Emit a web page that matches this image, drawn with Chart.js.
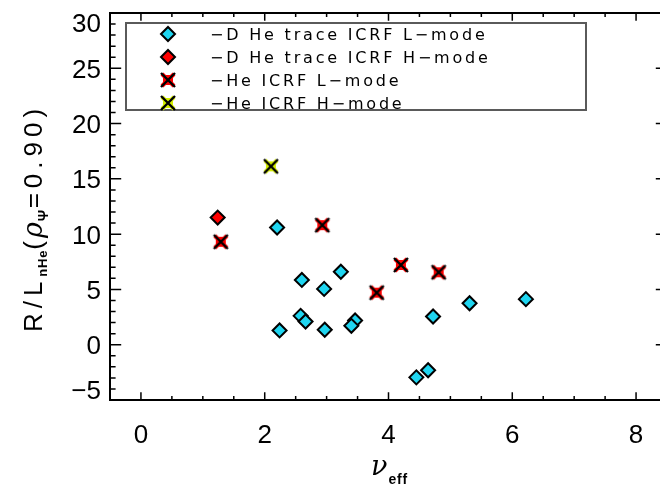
<!DOCTYPE html>
<html>
<head>
<meta charset="utf-8">
<script src="https://cdn.jsdelivr.net/npm/chart.js@4.4.1/dist/chart.umd.min.js"></script>
<style>
  html, body { margin: 0; padding: 0; background: #fff; overflow: hidden; }
  canvas { display: block; }
</style>
</head>
<body>
<canvas id="plot" width="680" height="484"></canvas>
<script>
/* ---------- data ---------- */
// D He trace, ICRF L-mode
const dTraceLX = [2.20, 2.60, 2.96, 3.23, 2.58, 2.66, 2.24, 2.97, 3.46, 3.40, 4.72, 5.31, 6.22, 4.64, 4.45];
const dTraceLY = [10.60, 5.86, 5.05, 6.60, 2.61, 2.10, 1.29, 1.35, 2.19, 1.71, 2.55, 3.75, 4.12, -2.31, -2.95];
// D He trace, ICRF H-mode
const dTraceHX = [1.24];
const dTraceHY = [11.50];
// He, ICRF L-mode
const heLX = [1.29, 2.93, 4.20, 4.81, 3.81];
const heLY = [9.31, 10.81, 7.21, 6.55, 4.71];
// He, ICRF H-mode
const heHX = [2.10];
const heHY = [16.13];

const xTicks = [0, 2, 4, 6, 8];
const xTickLabels = ["0", "2", "4", "6", "8"];
const yTicks = [-5, 0, 5, 10, 15, 20, 25, 30];
const yTickLabels = ["\u22125", "0", "5", "10", "15", "20", "25", "30"];
const legendLabels = [
  "\u2212D He trace ICRF L\u2212mode",
  "\u2212D He trace ICRF H\u2212mode",
  "\u2212He ICRF L\u2212mode",
  "\u2212He ICRF H\u2212mode"
];

const CYAN = "#1fd5f0";
const RED = "#ff0000";
const YELLOW = "#d4ee00";
const TICK_FONT = "Liberation Sans";

/* ---------- helpers ---------- */
const pts = (xs, ys) => xs.map((x, i) => ({ x, y: ys[i] }));

// black X over a coloured blob, used as a pointStyle image
function xMarker(fill){
  const c = document.createElement("canvas");
  c.width = c.height = 24;
  const g = c.getContext("2d");
  g.fillStyle = fill;
  g.fillRect(7, 7, 10, 10);
  g.strokeStyle = fill; g.lineWidth = 4;
  g.beginPath(); g.moveTo(6, 6); g.lineTo(18, 18); g.moveTo(18, 6); g.lineTo(6, 18); g.stroke();
  g.strokeStyle = "#000"; g.lineWidth = 2.4;
  g.beginPath(); g.moveTo(5, 5); g.lineTo(19, 19); g.moveTo(19, 5); g.lineTo(5, 19); g.stroke();
  return c;
}
const redX = xMarker(RED);
const yellowX = xMarker(YELLOW);

function diamond(ctx, x, y, r, fill){
  ctx.beginPath();
  ctx.moveTo(x - r, y); ctx.lineTo(x, y - r); ctx.lineTo(x + r, y); ctx.lineTo(x, y + r);
  ctx.closePath();
  ctx.fillStyle = fill; ctx.fill();
  ctx.strokeStyle = "#000"; ctx.lineWidth = 2; ctx.stroke();
}

// draw text char by char with extra spacing, returns advance
function spaced(ctx, text, x, y, sp){
  let cx = x;
  for (const ch of text){
    ctx.fillText(ch, cx, y);
    cx += ctx.measureText(ch).width + sp;
  }
  return cx - x;
}
function spacedWidth(ctx, text, sp){
  let w = 0;
  for (const ch of text) w += ctx.measureText(ch).width + sp;
  return w;
}

/* ---------- axes, titles, legend (IDL-like box frame) ---------- */
const framePlugin = {
  id: "frame",
  afterDatasetsDraw(chart){
    const { ctx, chartArea: a, scales: { x: xs, y: ys } } = chart;
    ctx.save();
    ctx.strokeStyle = "#000";
    ctx.fillStyle = "#000";

    // frame
    ctx.lineWidth = 2;
    ctx.strokeRect(a.left, a.top, a.right - a.left, a.bottom - a.top);

    // x ticks, minor every 0.5
    ctx.lineWidth = 1.5;
    ctx.beginPath();
    for (let k = -1; k <= 17; k++){
      const v = k / 2;
      const px = xs.getPixelForValue(v);
      const len = xTicks.includes(v) ? 7.8 : 3.9;
      ctx.moveTo(px, a.bottom); ctx.lineTo(px, a.bottom - len);
      ctx.moveTo(px, a.top); ctx.lineTo(px, a.top + len);
    }
    // y ticks, minor every 1
    for (let v = -5; v <= 30; v++){
      const py = ys.getPixelForValue(v);
      const len = yTicks.includes(v) ? 11.2 : 5.6;
      ctx.moveTo(a.left, py); ctx.lineTo(a.left + len, py);
      ctx.moveTo(a.right, py); ctx.lineTo(a.right - len, py);
    }
    ctx.stroke();

    // tick labels
    const fs = 26;
    ctx.font = `${fs}px "${TICK_FONT}"`;
    ctx.textBaseline = "alphabetic";
    ctx.textAlign = "center";
    xTicks.forEach((v, i) => {
      ctx.fillText(xTickLabels[i], xs.getPixelForValue(v), 434 + 0.36 * fs);
    });
    ctx.textAlign = "right";
    yTicks.forEach((v, i) => {
      let cy = ys.getPixelForValue(v);
      cy = Math.min(Math.max(cy, a.top + 10), a.bottom - 10);
      ctx.fillText(yTickLabels[i], 101, cy + 0.36 * fs);
    });

    // x title: nu_eff
    ctx.textAlign = "left";
    ctx.font = `italic 27px "DejaVu Serif"`;
    const nuW = ctx.measureText("\u03bd").width;
    ctx.font = `bold 14px "${TICK_FONT}"`;
    const effW = spacedWidth(ctx, "eff", 0.8);
    let tx = 389 - (nuW + effW) / 2;
    ctx.font = `italic 27px "DejaVu Serif"`;
    ctx.fillText("\u03bd", tx, 475);
    ctx.font = `bold 14px "${TICK_FONT}"`;
    spaced(ctx, "eff", tx + nuW + 1, 484, 0.8);

    // y title: R/L_nHe(rho_Psi=0.90), rotated
    const parts = [
      { t: "R/L", f: `26px "${TICK_FONT}"`, dy: 0, sp: 5 },
      { t: "nHe", f: `bold 13px "${TICK_FONT}"`, dy: 5, sp: 0.8 },
      { t: "(", f: `26px "${TICK_FONT}"`, dy: 0, sp: 3 },
      { t: "\u03c1", f: `italic 27px "DejaVu Serif"`, dy: 0, sp: 1 },
      { t: "\u03a8", f: `bold 14px "${TICK_FONT}"`, dy: 6, sp: 1.5 },
      { t: "=0.90)", f: `26px "${TICK_FONT}"`, dy: 0, sp: 5 }
    ];
    let total = 0;
    parts.forEach(p => { ctx.font = p.f; p.w = spacedWidth(ctx, p.t, p.sp); total += p.w; });
    ctx.save();
    ctx.translate(42, 218);
    ctx.rotate(-Math.PI / 2);
    let px = -total / 2;
    parts.forEach(p => { ctx.font = p.f; spaced(ctx, p.t, px, p.dy, p.sp); px += p.w; });
    ctx.restore();

    // legend
    ctx.strokeStyle = "#5a5a5a";
    ctx.lineWidth = 2;
    ctx.strokeRect(126, 23, 460, 87);
    const rows = [34, 57, 80, 103];
    ctx.font = `16px "DejaVu Sans"`;
    legendLabels.forEach((lab, i) => {
      const cy = rows[i];
      if (i === 0) diamond(ctx, 168, cy, 7, CYAN);
      else if (i === 1) diamond(ctx, 168, cy, 7, RED);
      else ctx.drawImage(i === 2 ? redX : yellowX, 168 - 12, cy - 12);
      ctx.fillStyle = "#000";
      spaced(ctx, lab, 210, cy + 6, 2.8);
    });
    ctx.restore();
  }
};

/* ---------- chart ---------- */
const markerBase = { showLine: false, pointBorderColor: "#000" };

new Chart(document.getElementById("plot").getContext("2d"), {
  type: "scatter",
  data: {
    datasets: [
      { ...markerBase, label: legendLabels[3], data: pts(heHX, heHY), pointStyle: yellowX, pointRadius: 12 },
      { ...markerBase, label: legendLabels[2], data: pts(heLX, heLY), pointStyle: redX, pointRadius: 12 },
      { ...markerBase, label: legendLabels[1], data: pts(dTraceHX, dTraceHY), pointStyle: "rectRot",
        pointRadius: 7, pointHoverRadius: 7, pointBackgroundColor: RED, pointBorderWidth: 2 },
      { ...markerBase, label: legendLabels[0], data: pts(dTraceLX, dTraceLY), pointStyle: "rectRot",
        pointRadius: 7, pointHoverRadius: 7, pointBackgroundColor: CYAN, pointBorderWidth: 2 }
    ]
  },
  options: {
    responsive: false,
    animation: false,
    layout: { padding: { left: 110, right: 11.4, top: 12, bottom: 84 } },
    scales: {
      x: { type: "linear", min: -0.5, max: 8.5, display: false },
      y: { type: "linear", min: -5, max: 30, display: false }
    },
    plugins: { legend: { display: false }, tooltip: { enabled: false } }
  },
  plugins: [framePlugin]
});
</script>
</body>
</html>
